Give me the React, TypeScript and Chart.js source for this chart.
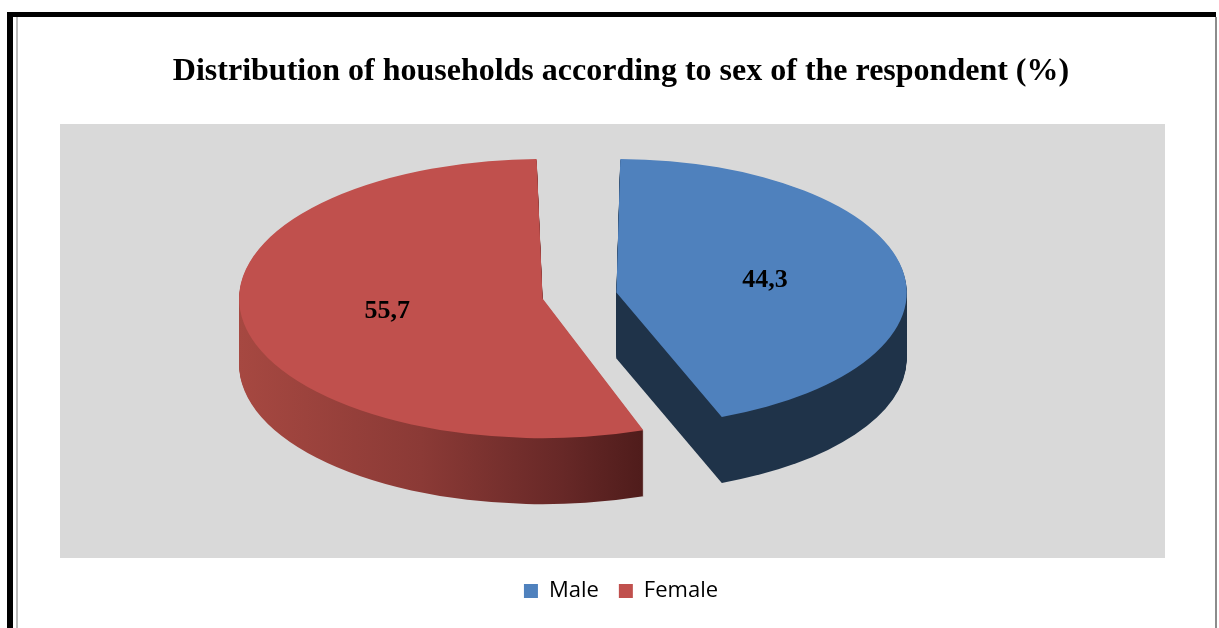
import React, { useEffect, useRef } from 'react';
import { Chart, registerables } from 'chart.js';

Chart.register(...registerables);

const TITLE = 'Distribution of households according to sex of the respondent (%)';
const CATEGORIES = ['Male', 'Female'];
const VALUES = [44.3, 55.7];
const TOP_COLORS = ['#4f81bd', '#c0504d'];
const SIDE_STOPS: [number, string][][] = [
  [[0, '#1f3349'], [1, '#1f3349']],
  [[0, '#a64841'], [0.45, '#8b3a36'], [0.8, '#672827'], [1, '#4f1c1b']],
];

const TILT = 0.46; // vertical squash of the pie (3D view)
const DEPTH = 66; // pie thickness in px
const LABEL_FRAC = 0.52;

// mirrors Chart.js ArcElement geometry (offset translation, radius and angle fixes)
function sliceGeom(arc: any, cx: number, cy: number) {
  const { startAngle, endAngle, outerRadius } = arc;
  const off = (arc.options.offset || 0) / 4;
  const circ = endAngle - startAngle;
  const fix = 1 - Math.sin(Math.min(Math.PI, circ));
  const radOff = off * fix;
  const r = outerRadius + radOff;
  const beta = Math.max(0.001, circ * r - radOff / Math.PI) / r;
  const angOff = (circ - beta) / 2;
  const half = (startAngle + endAngle) / 2;
  const sx = cx + Math.cos(half) * off;
  const sy = cy + Math.sin(half) * off;
  return { startAngle: startAngle + angOff, endAngle: endAngle - angOff, r, half, sx, sy };
}

const pie3d = {
  id: 'pie3d',
  beforeDatasetsDraw(chart: any) {
    const ctx: CanvasRenderingContext2D = chart.ctx;
    const arcs = chart.getDatasetMeta(0).data;
    if (!arcs.length) return;
    const cx = arcs[0].x;
    const cy = arcs[0].y;
    arcs.forEach((arc: any, i: number) => {
      const g = sliceGeom(arc, cx, cy);
      const x0 = g.sx - g.r;
      const x1 = g.sx + g.r * Math.max(Math.cos(g.startAngle), Math.cos(g.endAngle));
      const grad = ctx.createLinearGradient(x0, 0, x1, 0);
      SIDE_STOPS[i].forEach(([p, c]) => grad.addColorStop(p, c));
      for (let d = DEPTH; d >= 1; d--) {
        ctx.save();
        ctx.translate(0, d);
        ctx.translate(cx, cy);
        ctx.scale(1, TILT);
        ctx.translate(-cx, -cy);
        ctx.fillStyle = grad;
        ctx.beginPath();
        ctx.moveTo(g.sx, g.sy);
        ctx.arc(g.sx, g.sy, g.r, g.startAngle, g.endAngle);
        ctx.closePath();
        ctx.fill();
        ctx.restore();
      }
    });
    ctx.save();
    ctx.translate(cx, cy);
    ctx.scale(1, TILT);
    ctx.translate(-cx, -cy);
  },
  afterDatasetsDraw(chart: any) {
    const ctx: CanvasRenderingContext2D = chart.ctx;
    const arcs = chart.getDatasetMeta(0).data;
    if (!arcs.length) return;
    ctx.restore();
    const cx = arcs[0].x;
    const cy = arcs[0].y;
    ctx.save();
    ctx.font = 'bold 26px "Liberation Serif", "Times New Roman", serif';
    ctx.fillStyle = '#000';
    ctx.textAlign = 'center';
    ctx.textBaseline = 'middle';
    arcs.forEach((arc: any, i: number) => {
      const g = sliceGeom(arc, cx, cy);
      const px = g.sx + Math.cos(g.half) * g.r * LABEL_FRAC;
      const py = g.sy + Math.sin(g.half) * g.r * LABEL_FRAC;
      const ty = cy + (py - cy) * TILT;
      ctx.fillText(VALUES[i].toFixed(1).replace('.', ','), px, ty);
    });
    ctx.restore();
  },
};

export default function App() {
  const ref = useRef<HTMLCanvasElement>(null);
  useEffect(() => {
    const chart = new Chart(ref.current!, {
      type: 'pie',
      data: {
        labels: CATEGORIES,
        datasets: [
          {
            data: VALUES,
            backgroundColor: TOP_COLORS,
            borderColor: TOP_COLORS,
            borderWidth: 0,
            offset: 150,
            radius: 266,
            clip: false,
          } as any,
        ],
      },
      options: {
        responsive: false,
        animation: false,
        layout: { padding: { left: 23, right: 0, top: 0, bottom: 16 } },
        plugins: {
          tooltip: { enabled: false },
          title: {
            display: true,
            text: TITLE,
            color: '#000',
            font: { family: '"Liberation Serif", "Times New Roman", serif', size: 32, weight: 'bold' },
            padding: { top: 52.8, bottom: -60.2 },
          },
          subtitle: {
            display: true,
            position: 'right',
            text: '',
            font: { size: 10 },
            padding: { top: 35, bottom: 36 },
          },
          legend: {
            position: 'bottom',
            labels: {
              boxWidth: 14,
              boxHeight: 14,
              padding: 20,
              color: '#000',
              font: { family: '"Open Sans", sans-serif', size: 22 },
            },
          },
        },
      } as any,
      plugins: [pie3d],
    });
    return () => chart.destroy();
  }, []);

  return (
    <div style={{ position: 'absolute', left: 0, top: 0, width: 1219, height: 628, background: '#fff', overflow: 'hidden' }}>
      <div style={{ position: 'absolute', left: 7, top: 12, width: 1209, height: 640, borderLeft: '6px solid #000', borderTop: '5px solid #000', boxSizing: 'border-box' }} />
      <div style={{ position: 'absolute', left: 16, top: 17, width: 1201, height: 640, borderLeft: '2px solid #bdbdbd', borderRight: '2px solid #8c8c8c', boxSizing: 'border-box' }} />
      <div style={{ position: 'absolute', left: 60, top: 124, width: 1105, height: 434, background: '#d9d9d9' }} />
      <canvas ref={ref} width={1219} height={628} style={{ position: 'absolute', left: 0, top: 0, width: 1219, height: 628 }} />
    </div>
  );
}
